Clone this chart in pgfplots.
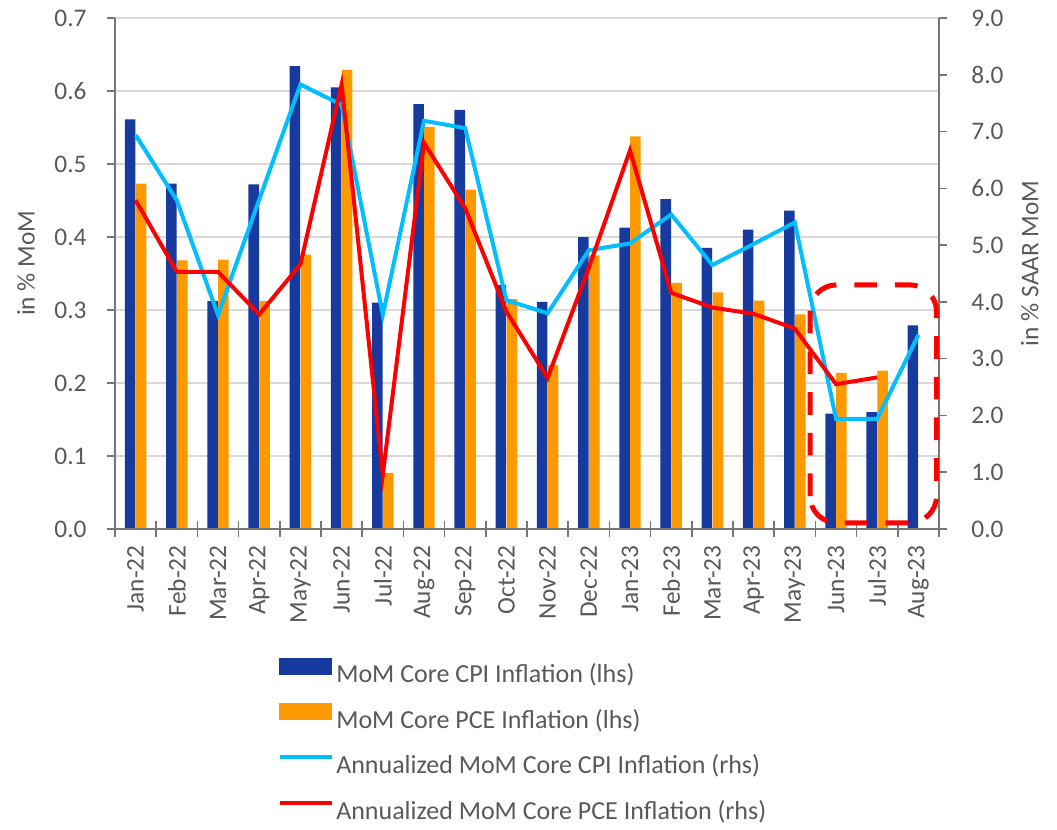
\documentclass[border=0pt]{standalone}
\usepackage{fontspec}
\setmainfont{Carlito}
\usepackage{pgfplots}
\pgfplotsset{compat=1.18}
\usepackage{pgfplotstable}
\definecolor{cpiblue}{RGB}{22,58,158}
\definecolor{pceorange}{RGB}{255,153,0}
\definecolor{linecyan}{RGB}{0,190,255}
\definecolor{txtgrey}{RGB}{89,89,89}
\definecolor{gridgrey}{RGB}{217,217,217}
\definecolor{axgrey}{RGB}{118,118,118}

\pgfplotstableread{
x cpi pce acpi apce
0 0.561 0.473 6.94 5.79
1 0.473 0.368 5.79 4.53
2 0.312 0.369 3.77 4.53
3 0.472 0.312 5.80 3.78
4 0.634 0.376 7.83 4.66
5 0.605 0.629 7.47 7.83
6 0.310 0.077 3.77 0.96
7 0.582 0.551 7.19 6.80
8 0.574 0.465 7.06 5.65
9 0.334 0.315 4.03 3.83
10 0.311 0.224 3.80 2.66
11 0.400 0.375 4.91 4.60
12 0.413 0.538 5.03 6.67
13 0.452 0.337 5.54 4.16
14 0.385 0.324 4.65 3.90
15 0.410 0.313 5.02 3.79
16 0.436 0.294 5.40 3.53
17 0.158 0.214 1.94 2.55
18 0.160 0.217 1.94 2.67
19 0.279 nan 3.42 nan
}\data

\newcommand{\bigfont}{\fontsize{19}{23}\selectfont}
\newcommand{\legfont}{\fontsize{19.5}{23}\selectfont}

\pgfplotsset{
  common/.style={
    at={(86.25pt,-13.5pt)}, anchor=north west,
    scale only axis, width=618pt, height=383.25pt,
    xmin=-0.5, xmax=19.5,
    /pgf/number format/assume math mode=true,
    tick label style={font=\bigfont, text=txtgrey},
    label style={font=\bigfont, text=txtgrey},
    tick style={axgrey, line width=1.1pt},
  },
  nolinearrows/.style={
    axis line style={-, axgrey, line width=1.1pt},
    every outer x axis line/.append style={-},
    every outer y axis line/.append style={-},
    every inner x axis line/.append style={-},
    every inner y axis line/.append style={-},
  }
}

\begin{document}
\begin{tikzpicture}
\path[use as bounding box] (0,0) rectangle (792.75pt,-621.75pt);

% bars, left axis
\begin{axis}[common,
  ymin=0, ymax=0.7,
  axis x line=bottom, axis y line=left,
  nolinearrows,
  ytick={0,0.1,0.2,0.3,0.4,0.5,0.6,0.7},
  yticklabel style={/pgf/number format/.cd, fixed, fixed zerofill, precision=1},
  yticklabel shift=12pt,
  ymajorgrids, grid style={gridgrey, line width=1.1pt},
  tick align=outside, major tick length=5.8pt,
  xtick={0,...,19},
  xticklabels={Jan-22,Feb-22,Mar-22,Apr-22,May-22,Jun-22,Jul-22,Aug-22,Sep-22,Oct-22,Nov-22,Dec-22,Jan-23,Feb-23,Mar-23,Apr-23,May-23,Jun-23,Jul-23,Aug-23},
  major x tick style={draw=none},
  xticklabel style={rotate=90, anchor=east},
  xticklabel shift=3pt,
  ylabel={in \% MoM},
  ylabel style={at={(axis description cs:-0.108,0.52)}, anchor=center, font=\bigfont, text=txtgrey},
]
\addplot[ybar, bar width=7.9pt, bar shift=-4.1pt, fill=cpiblue, draw=none] table[x=x,y=cpi]{\data};
\addplot[ybar, bar width=7.9pt, bar shift=4.1pt, fill=pceorange, draw=none] table[x=x,y=pce]{\data};
\end{axis}

% boundary ticks on x axis
\begin{axis}[common,
  ymin=0, ymax=1,
  axis x line=bottom, axis y line=none,
  nolinearrows,
  xtick={-0.5,0.5,...,19.5}, xticklabels={},
  ytick=\empty,
  tick align=center, major tick length=12pt,
]
\addplot[draw=none] coordinates {(0,0.5)};
\end{axis}

% lines, right axis
\begin{axis}[common,
  ymin=0, ymax=9,
  axis x line=none, axis y line=right,
  nolinearrows,
  ytick={0,1,2,3,4,5,6,7,8,9},
  yticklabel style={/pgf/number format/.cd, fixed, fixed zerofill, precision=1},
  yticklabel shift=15pt,
  tick align=outside, major tick length=5.8pt,
  ylabel={in \% SAAR MoM},
  ylabel style={at={(axis description cs:1.110,0.52)}, anchor=center, font=\bigfont, text=txtgrey},
  clip=false,
  legend cell align=left,
  legend style={draw=none, fill=none, at={(0.197,-0.251)}, anchor=north west,
    font=\legfont, text=txtgrey, row sep=12.3pt, inner sep=0pt},
]
\addlegendimage{legend image code/.code={\fill[cpiblue] (0pt,0pt) rectangle (39pt,12pt);}}
\addlegendentry{MoM Core CPI Inflation (lhs)}
\addlegendimage{legend image code/.code={\fill[pceorange] (0pt,0pt) rectangle (39pt,12pt);}}
\addlegendentry{MoM Core PCE Inflation (lhs)}
\addplot[linecyan, line width=3pt,
  legend image code/.code={\path[draw=none, fill=none] (0pt,0pt) rectangle (39pt,12pt); \draw[linecyan, line width=3pt] (0pt,6pt) -- (39pt,6pt);}]
  table[x=x,y=acpi]{\data};
\addlegendentry{Annualized MoM Core CPI Inflation (rhs)}
\addplot[red, line width=3pt,
  legend image code/.code={\path[draw=none, fill=none] (0pt,0pt) rectangle (39pt,12pt); \draw[red, line width=3pt] (0pt,6pt) -- (39pt,6pt);}]
  table[x=x,y=apce]{\data};
\addlegendentry{Annualized MoM Core PCE Inflation (rhs)}
\draw[red, line width=3.75pt, dash pattern=on 17pt off 13.5pt, rounded corners=20pt]
  (axis cs:16.37,0.11) rectangle (axis cs:19.44,4.30);
\end{axis}
\end{tikzpicture}
\end{document}
